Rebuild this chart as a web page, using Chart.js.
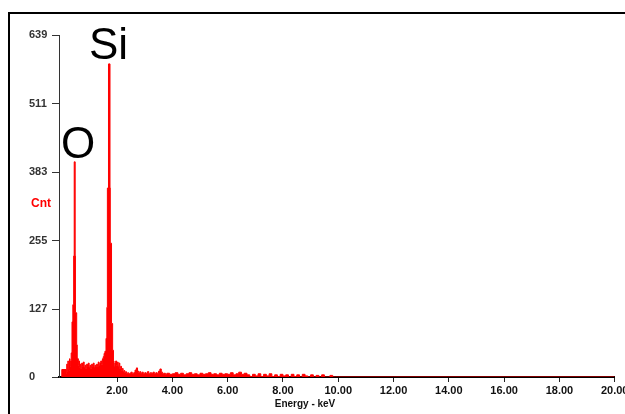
<!DOCTYPE html>
<html>
<head>
<meta charset="utf-8">
<script src="https://cdn.jsdelivr.net/npm/chart.js@4.4.0/dist/chart.umd.min.js"></script>
<style>
  html, body { margin: 0; padding: 0; background: #fff; width: 625px; height: 414px; overflow: hidden; }
  #frame { position: absolute; left: 8px; top: 12px; width: 700px; height: 500px;
           border-top: 2px solid #000; border-left: 2px solid #000; }
  #chart { position: absolute; left: 0; top: 0; }
</style>
</head>
<body>
<div id="frame"></div>
<canvas id="chart" width="680" height="414"></canvas>
<script>
// EDS spectrum (bin left edge in keV -> counts)
const energies = [
  0.00, 0.16, 0.18, 0.20, 0.22, 0.24, 0.26, 0.28, 0.30, 0.32,
  0.34, 0.37, 0.40, 0.43, 0.45, 0.485, 0.495, 0.54, 0.56, 0.58,
  0.60, 0.62, 0.64, 0.66, 0.69, 0.72, 0.75, 0.78, 0.81, 0.84,
  0.87, 0.90, 0.93, 0.96, 0.99, 1.02, 1.05, 1.08, 1.11, 1.14,
  1.17, 1.20, 1.23, 1.26, 1.29, 1.32, 1.35, 1.38, 1.41, 1.44,
  1.47, 1.50, 1.53, 1.56,
  1.60, 1.63, 1.65, 1.69, 1.745, 1.755, 1.80, 1.84, 1.87, 1.89,
  1.92, 1.95, 1.98, 2.01, 2.04, 2.07, 2.10, 2.13, 2.16, 2.19,
  2.22, 2.25, 2.28, 2.31, 2.34, 2.38, 2.42, 2.46, 2.50, 2.55,
  2.60, 2.65, 2.70, 2.74, 2.78, 2.82, 2.86, 2.90, 2.95, 3.00,
  3.05, 3.10, 3.15, 3.20, 3.25, 3.30, 3.35, 3.40, 3.45, 3.50,
  3.55, 3.60, 3.65, 3.70, 3.75, 3.80, 3.90, 4.00, 4.10, 4.20,
  4.30, 4.40, 4.50, 4.60, 4.70, 4.80, 4.90, 5.00, 5.10, 5.20,
  5.30, 5.40, 5.50, 5.60, 5.70, 5.80, 5.90, 6.00, 6.10, 6.20,
  6.30, 6.40, 6.50, 6.60, 6.70, 6.80, 6.90, 7.00, 7.10, 7.20,
  7.30, 7.40, 7.50, 7.60, 7.70, 7.80, 7.90, 8.00, 8.10, 8.20,
  8.30, 8.40, 8.50, 8.60, 8.70, 8.80, 8.90, 9.00, 9.10, 9.20,
  9.30, 9.40, 9.50, 9.60, 9.70, 9.80, 9.90, 10.00, 20.00
];
const counts = [
  0, 14, 6, 24, 10, 30, 16, 12, 34, 20,
  30, 45, 103, 135, 226, 402, 226, 120, 60, 35,
  34, 22, 30, 18, 24, 16, 26, 20, 28, 18,
  22, 16, 24, 19, 26, 18, 22, 16, 24, 20,
  26, 18, 22, 19, 24, 20, 28, 22, 26, 30,
  24, 34, 38, 44,
  48, 72, 130, 353, 585, 353, 250, 100, 50, 30,
  20, 26, 30, 22, 28, 20, 26, 16, 20, 12,
  16, 10, 12, 8, 10, 6, 8, 6, 7, 9,
  6, 8, 13, 17, 11, 8, 10, 7, 9, 6,
  8, 7, 10, 6, 8, 7, 9, 6, 8, 7,
  11, 15, 9, 6, 7, 5, 7, 5, 6, 8,
  5, 7, 4, 6, 8, 5, 6, 4, 7, 5,
  6, 8, 5, 6, 4, 7, 5, 6, 5, 8,
  4, 6, 9, 5, 7, 4, 1, 5, 2, 6,
  1, 5, 2, 6, 1, 4, 1, 5, 2, 4,
  0, 5, 1, 4, 0, 5, 2, 0, 4, 0,
  3, 0, 4, 0, 0, 3, 0, 0, 0
];

const xTickValues = [2, 4, 6, 8, 10, 12, 14, 16, 18, 20];
const yTickValues = [0, 127, 255, 383, 511, 639];

const labelsPlugin = {
  id: 'labels',
  afterDraw(chart) {
    const ctx = chart.ctx;
    ctx.save();
    ctx.fillStyle = '#000';
    ctx.font = '44px "Liberation Sans", Arial, sans-serif';
    ctx.textAlign = 'left';
    ctx.textBaseline = 'alphabetic';
    ctx.fillText('Si', 89, 59);
    ctx.fillText('O', 61, 158);

    ctx.fillStyle = '#ff0000';
    ctx.font = 'bold 12px "Liberation Sans", Arial, sans-serif';
    ctx.textAlign = 'left';
    ctx.textBaseline = 'middle';
    ctx.fillText('Cnt', 31, 204);

    ctx.fillStyle = '#111';
    ctx.textAlign = 'center';
    ctx.font = 'bold 10px "Liberation Sans", Arial, sans-serif';
    ctx.fillText('Energy - keV', 305, 404);
    ctx.restore();
  }
};

new Chart(document.getElementById('chart'), {
  type: 'line',
  data: {
    datasets: [{
      data: energies.map((e, i) => ({ x: e, y: counts[i] })),
      stepped: 'after',
      borderColor: '#ff0000',
      backgroundColor: '#ff0000',
      borderWidth: 1,
      fill: 'origin',
      pointRadius: 0,
      tension: 0
    }]
  },
  options: {
    responsive: false,
    animation: false,
    events: [],
    layout: { padding: { top: 35, right: 65.3, left: 29, bottom: 0 } },
    plugins: { legend: { display: false }, tooltip: { enabled: false } },
    scales: {
      x: {
        type: 'linear',
        min: -0.1,
        max: 20,
        z: 1,
        afterFit(scale) { scale.height = 37; },
        afterBuildTicks(scale) { scale.ticks = xTickValues.map(v => ({ value: v })); },
        border: { display: true, color: '#000', width: 2 },
        grid: { drawOnChartArea: false, drawTicks: true, tickLength: 5, color: '#222' },
        ticks: {
          autoSkip: false,
          maxRotation: 0,
          padding: 2,
          color: '#111',
          font: { family: '"Liberation Sans", Arial, sans-serif', size: 11, weight: 'bold' },
          callback: v => v.toFixed(2)
        }
      },
      y: {
        type: 'linear',
        min: 0,
        max: 639,
        z: 1,
        afterFit(scale) { scale.width = 30; },
        afterBuildTicks(scale) { scale.ticks = yTickValues.map(v => ({ value: v })); },
        border: { display: true, color: '#333', width: 1 },
        grid: { drawOnChartArea: false, drawTicks: true, tickLength: 7, color: '#333' },
        ticks: {
          autoSkip: false,
          crossAlign: 'far',
          padding: 3,
          color: '#333',
          font: { family: '"Liberation Sans", Arial, sans-serif', size: 11, weight: 'bold' },
          callback: v => String(v)
        }
      }
    }
  },
  plugins: [labelsPlugin]
});
</script>
</body>
</html>
